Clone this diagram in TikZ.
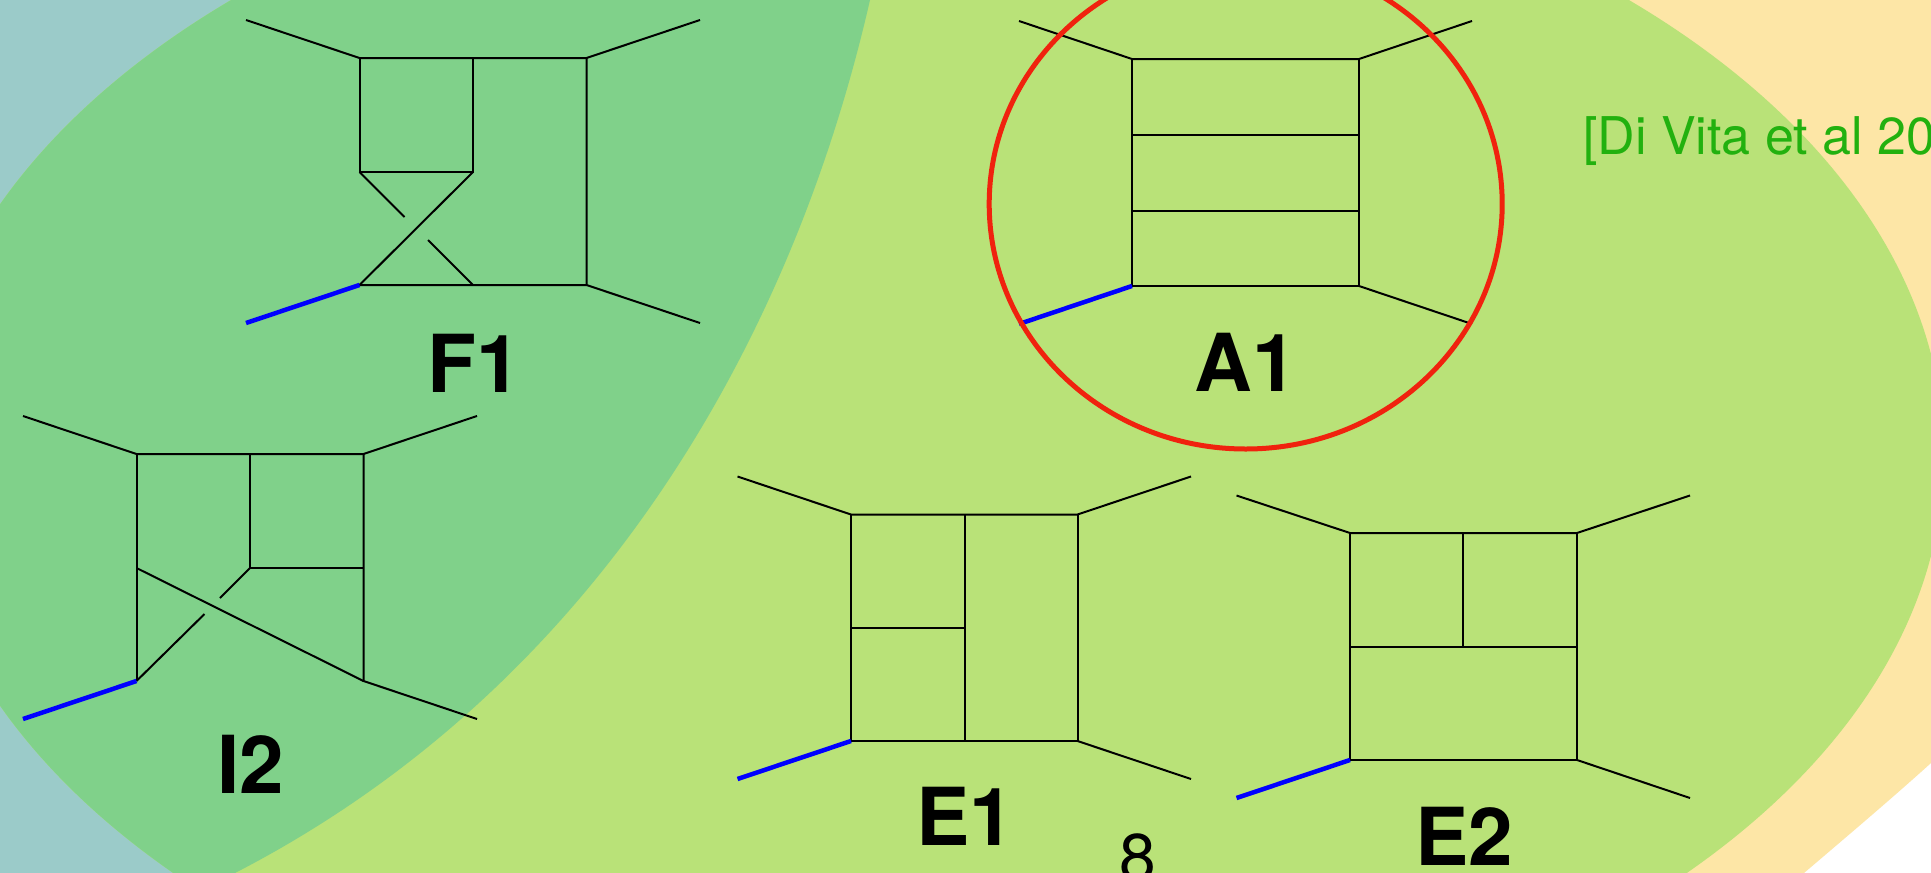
\documentclass[tikz,border=0pt]{standalone}
\usepackage{xcolor}
\usepackage{fontspec}
\setmainfont{TeX Gyre Heros}
\definecolor{peach}{HTML}{FDE6A6}
\definecolor{bluegray}{HTML}{9BCBC9}
\definecolor{midgreen}{HTML}{80D18A}
\definecolor{lightgreen}{HTML}{B9E278}
\definecolor{citegreen}{HTML}{22B10F}
\definecolor{ringred}{HTML}{F0220E}
\usetikzlibrary{positioning}

\begin{document}
\begin{tikzpicture}[x=1pt,y=-1pt,
        prop/.style={black,line width=2pt},
        massleg/.style={blue,line width=4.5pt},
        name label/.style={anchor=base,inner sep=0pt,font=\fontsize{80}{80}\selectfont\bfseries}]
    \path[use as bounding box,clip] (0,0) rectangle (1931,873);
    % Fondo: regiones de color
    \fill[white] (0,0) rectangle (1931,873);
    \fill[peach] (0,0) -- (1931,0) -- (1931,763) .. controls (1890,800) and (1845,838) .. (1804,873) -- (0,873) -- cycle;
    \fill[bluegray] (0,0) -- (870,0) .. controls (790,350) and (590,690) .. (235,873) -- (0,873) -- cycle;
    \fill[lightgreen] (930,455) ellipse [x radius=1014pt,y radius=628pt];
    \begin{scope}
        \clip (0,0) -- (870,0) .. controls (790,350) and (590,690) .. (235,873) -- (0,873) -- cycle;
        \fill[midgreen] (930,455) ellipse [x radius=1014pt,y radius=628pt];
    \end{scope}
    % Diagrama F1
    \coordinate (F1a) at (246,20); \coordinate (F1b) at (700,20);
    \coordinate (F1c) at (246,323); \coordinate (F1d) at (700,323);
    \coordinate (F1tl) at (359.5,58); \coordinate (F1tm) at (473,58); \coordinate (F1tr) at (586.5,58);
    \coordinate (F1ml) at (359.5,172); \coordinate (F1mm) at (473,172);
    \coordinate (F1bl) at (359.5,285); \coordinate (F1bm) at (473,285); \coordinate (F1br) at (586.5,285);
    \coordinate (F1x) at (404.5,217); \coordinate (F1y) at (428,240);
    \draw[prop] (F1a) -- (F1tl) -- (F1tr) -- (F1b);
    \draw[prop] (F1tr) -- (F1br) -- (F1d);
    \draw[prop] (F1tl) -- (F1ml) -- (F1mm) -- (F1tm);
    \draw[prop] (F1mm) -- (F1bl) -- (F1br);
    \draw[prop] (F1ml) -- (F1x);
    \draw[prop] (F1y) -- (F1bm);
    \draw[massleg] (F1c) -- (F1bl);
    \node[name label] (labelF1) at (474,392) {F1};
    % Diagrama I2
    \coordinate (I2a) at (23,416); \coordinate (I2b) at (477,416);
    \coordinate (I2c) at (23,719); \coordinate (I2d) at (477,719);
    \coordinate (I2tl) at (136.5,454); \coordinate (I2tm) at (250,454); \coordinate (I2tr) at (363.5,454);
    \coordinate (I2ml) at (136.5,568); \coordinate (I2mm) at (250,568); \coordinate (I2mr) at (363.5,568);
    \coordinate (I2bl) at (136.5,681); \coordinate (I2br) at (363.5,681);
    \coordinate (I2x) at (220,598); \coordinate (I2y) at (204.5,614);
    \draw[prop] (I2a) -- (I2tl) -- (I2tr) -- (I2b);
    \draw[prop] (I2tl) -- (I2bl);
    \draw[prop] (I2tr) -- (I2br) -- (I2d);
    \draw[prop] (I2tm) -- (I2mm) -- (I2mr);
    \draw[prop] (I2ml) -- (I2br);
    \draw[prop] (I2mm) -- (I2x);
    \draw[prop] (I2y) -- (I2bl);
    \draw[massleg] (I2c) -- (I2bl);
    \node[name label] (labelI2) at (251,793) {I2};
    % Diagrama A1
    \coordinate (A1a) at (1019,21); \coordinate (A1b) at (1472,21);
    \coordinate (A1c) at (1019,324); \coordinate (A1d) at (1472,324);
    \coordinate (A1tl) at (1132,59); \coordinate (A1tr) at (1359,59);
    \coordinate (A1ul) at (1132,134.5); \coordinate (A1ur) at (1359,134.5);
    \coordinate (A1vl) at (1132,210.5); \coordinate (A1vr) at (1359,210.5);
    \coordinate (A1bl) at (1132,286); \coordinate (A1br) at (1359,286);
    \draw[prop] (A1a) -- (A1tl) -- (A1tr) -- (A1b);
    \draw[prop] (A1tl) -- (A1bl) -- (A1br) -- (A1tr);
    \draw[prop] (A1br) -- (A1d);
    \draw[prop] (A1ul) -- (A1ur);
    \draw[prop] (A1vl) -- (A1vr);
    \draw[massleg] (A1c) -- (A1bl);
    \node[name label] (labelA1) at (1246,391) {A1};
    % Elipse roja
    \draw[ringred,line width=5pt] (1245.7,204) ellipse [x radius=256.5pt,y radius=245pt];
    % Diagrama E1
    \coordinate (E1a) at (737.5,476.5); \coordinate (E1b) at (1191,476.5);
    \coordinate (E1c) at (737.5,779); \coordinate (E1d) at (1191,779);
    \coordinate (E1tl) at (851,514.5); \coordinate (E1tm) at (964.5,514.5); \coordinate (E1tr) at (1077.5,514.5);
    \coordinate (E1ml) at (851,628); \coordinate (E1mm) at (964.5,628);
    \coordinate (E1bl) at (851,741); \coordinate (E1bm) at (964.5,741); \coordinate (E1br) at (1077.5,741);
    \draw[prop] (E1a) -- (E1tl) -- (E1tr) -- (E1b);
    \draw[prop] (E1tl) -- (E1bl) -- (E1br) -- (E1tr);
    \draw[prop] (E1br) -- (E1d);
    \draw[prop] (E1tm) -- (E1bm);
    \draw[prop] (E1ml) -- (E1mm);
    \draw[massleg] (E1c) -- (E1bl);
    \node[name label] (labelE1) at (965,845) {E1};
    % Diagrama E2
    \coordinate (E2a) at (1236.5,495.5); \coordinate (E2b) at (1690,495.5);
    \coordinate (E2c) at (1236.5,798); \coordinate (E2d) at (1690,798);
    \coordinate (E2tl) at (1350,533); \coordinate (E2tm) at (1463,533); \coordinate (E2tr) at (1577,533);
    \coordinate (E2ml) at (1350,646.5); \coordinate (E2mm) at (1463,646.5); \coordinate (E2mr) at (1577,646.5);
    \coordinate (E2bl) at (1350,760); \coordinate (E2br) at (1577,760);
    \draw[prop] (E2a) -- (E2tl) -- (E2tr) -- (E2b);
    \draw[prop] (E2tl) -- (E2bl) -- (E2br) -- (E2tr);
    \draw[prop] (E2br) -- (E2d);
    \draw[prop] (E2ml) -- (E2mr);
    \draw[prop] (E2tm) -- (E2mm);
    \draw[massleg] (E2c) -- (E2bl);
    \node[name label] (labelE2) at (1464.5,865) {E2};
    % Textos
    \node[anchor=base west,inner sep=0pt,citegreen,font=\fontsize{52}{52}\selectfont] (cite) at (1583,154) {[Di Vita et al 20};
    \node[anchor=base,inner sep=0pt,black,font=\fontsize{66}{66}\selectfont] (pagenum) at (1137.5,880) {8};
\end{tikzpicture}
\end{document}
